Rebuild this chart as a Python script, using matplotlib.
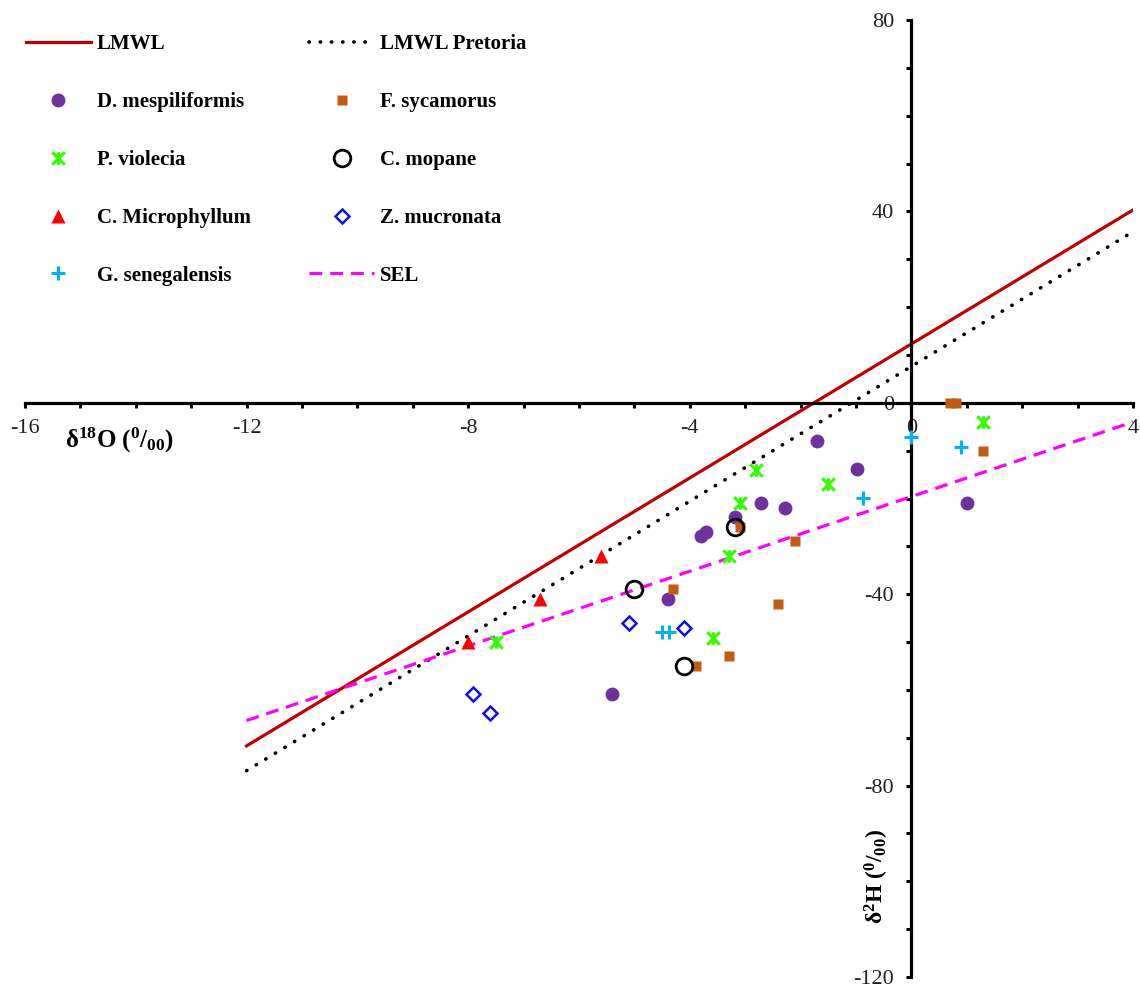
import numpy as np
import matplotlib
matplotlib.use('Agg')
import matplotlib.pyplot as plt
from matplotlib.path import Path
from matplotlib.ticker import MultipleLocator

plt.rcParams['font.family'] = ['Liberation Serif', 'DejaVu Serif']
plt.rcParams['axes.unicode_minus'] = False
plt.rcParams['mathtext.fontset'] = 'custom'
plt.rcParams['mathtext.rm'] = 'Liberation Serif'
plt.rcParams['mathtext.bf'] = 'Liberation Serif:bold'
plt.rcParams['mathtext.it'] = 'Liberation Serif:italic'

# meteoric water lines: slope, intercept (d2H = a*d18O + b), drawn over this d18O range
line_x = [-12, 4]
lmwl = (7.0, 12.3)
lmwl_pretoria = (7.04, 7.6)
sel = (3.9, -19.6)

# d18O, d2H per species
d_mesp_x = [-1.70, -0.99, -2.71, -2.29, -3.19, -3.70, -3.79, -4.40, -5.40, 1.01]
d_mesp_y = [-7.9, -13.8, -20.9, -21.9, -23.8, -27.0, -27.8, -41.0, -60.8, -20.9]

f_syc_x = [0.70, 0.81, 1.30, -3.10, -2.11, -4.30, -2.40, -3.30, -3.88]
f_syc_y = [0.0, 0.0, -10.0, -25.9, -28.8, -38.9, -42.0, -52.9, -55.0]

p_viol_x = [1.30, -2.80, -1.50, -3.10, -3.29, -3.59, -7.49]
p_viol_y = [-4.0, -14.0, -17.0, -20.9, -32.0, -49.1, -50.0]

c_mop_x = [-3.19, -5.00, -4.10]
c_mop_y = [-25.9, -38.9, -55.0]

c_micro_x = [-5.60, -6.70, -8.00]
c_micro_y = [-32.0, -41.0, -50.0]

z_mucr_x = [-5.09, -4.10, -7.91, -7.60]
z_mucr_y = [-46.0, -47.0, -60.8, -64.8]

g_sen_x = [0.0, 0.90, -0.88, -4.51, -4.37]
g_sen_y = [-7.1, -9.2, -19.9, -48.0, -48.0]

# Excel-like star marker: X with a vertical bar
star = Path([(-1, -1), (1, 1), (-1, 1), (1, -1), (0, -1), (0, 1)],
            [Path.MOVETO, Path.LINETO, Path.MOVETO, Path.LINETO, Path.MOVETO, Path.LINETO])

fig = plt.figure(figsize=(11.4, 9.88), dpi=100)
ax = fig.add_axes([25 / 1140, 11 / 988, 1108 / 1140, 957 / 988])
ax.set_xlim(-16, 4)
ax.set_ylim(-120, 80)

xs = np.array(line_x)
h_lmwl, = ax.plot(xs, lmwl[0] * xs + lmwl[1], color='#C00000', lw=2.3, zorder=2, label='LMWL')
h_pre, = ax.plot(xs, lmwl_pretoria[0] * xs + lmwl_pretoria[1], color='black', lw=2.6,
                 linestyle=(0, (0.1, 3.0)), dash_capstyle='round', zorder=2, label='LMWL Pretoria')
h_sel, = ax.plot(xs, sel[0] * xs + sel[1], color='#FF00FF', lw=2.3,
                 linestyle=(0, (4, 2.5)), zorder=2, label='SEL')

h_dm, = ax.plot(d_mesp_x, d_mesp_y, 'o', ms=10, color='#7030A0', mec='none', zorder=3,
                label='D. mespiliformis')
h_fs, = ax.plot(f_syc_x, f_syc_y, 's', ms=7.5, color='#C55A11', mec='none', zorder=3,
                label='F. sycamorus')
h_pv, = ax.plot(p_viol_x, p_viol_y, marker=star, ls='none', ms=9, mfc='none', mec='#33FF00',
                mew=2.3, zorder=3, label='P. violecia')
h_cm, = ax.plot(c_mop_x, c_mop_y, 'o', ms=12, mfc='none', mec='black', mew=2, zorder=3,
                label='C. mopane')
h_cmi, = ax.plot(c_micro_x, c_micro_y, '^', ms=9.5, color='#FF0000', mec='none', zorder=3,
                 label='C. Microphyllum')
h_zm, = ax.plot(z_mucr_x, z_mucr_y, 'D', ms=7.5, mfc='none', mec='#1010E0', mew=1.8, zorder=3,
                label='Z. mucronata')
h_gs, = ax.plot(g_sen_x, g_sen_y, '+', ms=10, color='#00B0F0', mew=2.2, zorder=3,
                label='G. senegalensis')

# axes crossing at the origin
for s in ['top', 'right']:
    ax.spines[s].set_visible(False)
ax.spines['left'].set_position(('data', 0))
ax.spines['bottom'].set_position(('data', 0))
ax.spines['left'].set_linewidth(2.3)
ax.spines['bottom'].set_linewidth(2.3)

ax.xaxis.set_major_locator(MultipleLocator(4))
ax.xaxis.set_minor_locator(MultipleLocator(1))
ax.yaxis.set_major_locator(MultipleLocator(40))
ax.yaxis.set_minor_locator(MultipleLocator(10))
ax.tick_params(which='both', direction='out', length=3.5, width=2.2, colors='black')
ax.tick_params(axis='x', which='major', pad=8, labelsize=16, labelcolor='#222222')
ax.tick_params(axis='y', which='major', pad=9, labelsize=16, labelcolor='#222222')

ax.text(-14.3, -7.8, r'$\mathbf{δ^{18}O\ (^{0}/_{00})}$', fontsize=18, ha='center', va='center')
ax.text(-0.63, -99.0, r'$\mathbf{δ^{2}H\ (^{0}/_{00})}$', fontsize=17, ha='center', va='center',
        rotation=90)

handles = [h_lmwl, h_dm, h_pv, h_cmi, h_gs, h_pre, h_fs, h_cm, h_zm, h_sel]
leg = fig.legend(handles=handles, labels=[h.get_label() for h in handles], ncol=2,
                 loc='upper left', bbox_to_anchor=(24 / 1140, 1 - 32 / 988), frameon=False,
                 prop={'family': 'Liberation Serif', 'weight': 'bold', 'size': 15},
                 numpoints=1, handlelength=3.1, handletextpad=0.3, labelspacing=1.82,
                 columnspacing=2.8, borderpad=0.1, borderaxespad=0)

fig.savefig('out.png', dpi=100)
